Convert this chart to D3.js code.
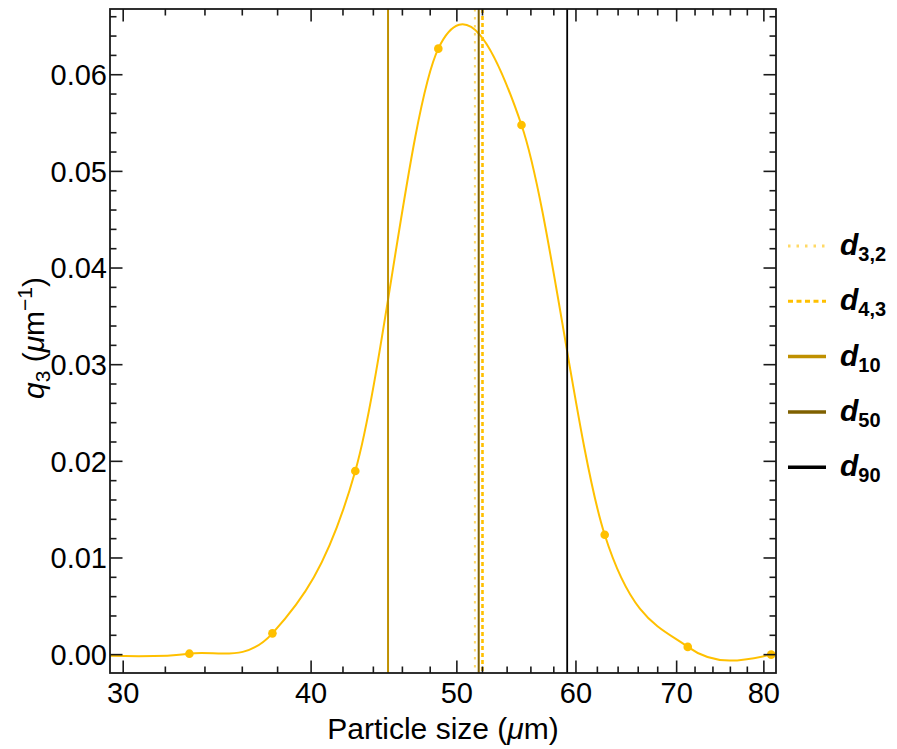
<!DOCTYPE html>
<html lang="en">
<head>
<meta charset="UTF-8">
<title>q3 particle size distribution</title>
<style>
    body { margin: 0; background: #fff; }
    svg text { font-family: "Liberation Sans", Arial, sans-serif; fill: #000; }
    .frame { fill: none; stroke: #1a1a1a; stroke-width: 1.8px; }
    .tick { stroke: #1a1a1a; stroke-width: 1.6px; }
    .curve { fill: none; stroke: #ffc000; stroke-width: 2px; }
</style>
</head>
<body>
<div id="chart"></div>
<script src="https://cdn.jsdelivr.net/npm/d3@7"></script>
<script>
    // q3 values; the first and last sit just outside the plotted range
    const sizes = [29.2, 33.2, 37.7, 42.8, 48.6, 55.2, 62.7, 71.2, 80.9, 91.9];
    const q3 = [-0.0001, 0.0001, 0.0022, 0.0190, 0.0627, 0.0548, 0.0124, 0.0008, 0.0000, 0.0047];

    // characteristic diameters
    const diamNames = ["3,2", "4,3", "10", "50", "90"];
    const diamValues = [51.4, 52.0, 45.0, 51.7, 59.2];
    const diamColors = ["#ffd966", "#ffc000", "#bf9000", "#7f6000", "#000000"];
    const diamDash = ["2.5,5.5", "4,3", null, null, null];
    const diamWidth = [2, 2.6, 2, 2, 1.8];

    const xMajor = [30, 40, 50, 60, 70, 80];
    const yMajor = [0, 0.01, 0.02, 0.03, 0.04, 0.05, 0.06];

    const W = 897, H = 749;
    const margin = { top: 9, right: 121, bottom: 76, left: 110 };
    const width = W - margin.left - margin.right,
          height = H - margin.top - margin.bottom;

    const x = d3.scaleLog().domain([29.4, 81.5]).range([0, width]);
    const y = d3.scaleLinear().domain([-0.0019, 0.0668]).range([height, 0]);

    const svg = d3.select("#chart").append("svg")
        .attr("width", W).attr("height", H);
    const g = svg.append("g")
        .attr("transform", `translate(${margin.left},${margin.top})`);

    g.append("clipPath").attr("id", "plot-clip")
        .append("rect").attr("width", width).attr("height", height);

    const plot = g.append("g").attr("clip-path", "url(#plot-clip)");

    const pts = sizes.map((s, i) => [s, q3[i]]);

    plot.append("path")
        .datum(pts)
        .attr("class", "curve")
        .attr("d", d3.line()
            .x(d => x(d[0])).y(d => y(d[1]))
            .curve(d3.curveCardinal.tension(0)));

    plot.selectAll(".pt")
        .data(pts)
        .enter().append("circle")
        .attr("class", "pt")
        .attr("cx", d => x(d[0])).attr("cy", d => y(d[1]))
        .attr("r", 4.3)
        .attr("fill", "#ffc000");

    // vertical diameter lines (solid first, dotted on top)
    const order = [2, 3, 4, 0, 1];
    plot.selectAll(".dline")
        .data(order)
        .enter().append("line")
        .attr("x1", i => x(diamValues[i])).attr("x2", i => x(diamValues[i]))
        .attr("y1", 0).attr("y2", height)
        .attr("stroke", i => diamColors[i])
        .attr("stroke-width", i => diamWidth[i])
        .attr("stroke-dasharray", i => diamDash[i]);

    // ticks on all four sides
    const xMinor = d3.range(30, 82, 2).filter(v => !xMajor.includes(v));
    const yMinor = d3.range(-2, 67, 2).map(v => v / 1000)
        .filter(v => v >= y.domain()[0] && v <= y.domain()[1])
        .filter(v => !yMajor.some(m => Math.abs(m - v) < 1e-9));
    const bigT = 12.5, smallT = 6.5;

    const ticks = g.append("g");
    function xTicks(vals, len) {
        vals.forEach(v => {
            ticks.append("line").attr("class", "tick")
                .attr("x1", x(v)).attr("x2", x(v)).attr("y1", height).attr("y2", height - len);
            ticks.append("line").attr("class", "tick")
                .attr("x1", x(v)).attr("x2", x(v)).attr("y1", 0).attr("y2", len);
        });
    }
    function yTicks(vals, len) {
        vals.forEach(v => {
            ticks.append("line").attr("class", "tick")
                .attr("y1", y(v)).attr("y2", y(v)).attr("x1", 0).attr("x2", len);
            ticks.append("line").attr("class", "tick")
                .attr("y1", y(v)).attr("y2", y(v)).attr("x1", width).attr("x2", width - len);
        });
    }
    xTicks(xMajor, bigT); xTicks(xMinor, smallT);
    yTicks(yMajor, bigT); yTicks(yMinor, smallT);

    g.append("rect").attr("class", "frame").attr("width", width).attr("height", height);

    g.selectAll(".xlab")
        .data(xMajor)
        .enter().append("text")
        .attr("x", d => x(d)).attr("y", height + 30)
        .attr("text-anchor", "middle")
        .style("font-size", "29px")
        .text(d => d);

    g.selectAll(".ylab")
        .data(yMajor)
        .enter().append("text")
        .attr("x", -3).attr("y", d => y(d))
        .attr("dy", "0.36em")
        .attr("text-anchor", "end")
        .style("font-size", "29px")
        .text(d3.format(".2f"));

    // axis titles
    const xt = svg.append("text")
        .attr("x", margin.left + width / 2).attr("y", 739)
        .attr("text-anchor", "middle")
        .style("font-size", "30px");
    xt.append("tspan").text("Particle size (");
    xt.append("tspan").style("font-style", "italic").text("μ");
    xt.append("tspan").text("m)");

    const yt = svg.append("text")
        .attr("transform", `translate(44,${margin.top + height / 2 - 3}) rotate(-90)`)
        .attr("text-anchor", "middle")
        .style("font-size", "30px");
    yt.append("tspan").style("font-style", "italic").text("q");
    yt.append("tspan").attr("dy", 6).style("font-size", "21px").text("3");
    yt.append("tspan").attr("dy", -6).text(" (");
    yt.append("tspan").style("font-style", "italic").text("μ");
    yt.append("tspan").text("m");
    yt.append("tspan").attr("dy", -12).style("font-size", "21px").text("−1");
    yt.append("tspan").attr("dy", 12).text(")");

    // legend
    const leg = svg.append("g").attr("transform", "translate(788,246)");
    const item = leg.selectAll(".item")
        .data(diamNames)
        .enter().append("g")
        .attr("transform", (d, i) => `translate(0,${i * 55.3})`);
    item.append("line")
        .attr("x1", 0).attr("x2", 38)
        .attr("stroke", (d, i) => diamColors[i])
        .attr("stroke-width", (d, i) => i < 2 ? 3 : 3.5)
        .attr("stroke-dasharray", (d, i) => i === 0 ? "2.5,6" : i === 1 ? "5,3.5" : null);
    const lt = item.append("text")
        .attr("x", 52).attr("y", 9)
        .style("font-weight", "bold");
    lt.append("tspan").style("font-style", "italic").style("font-size", "30px").text("d");
    lt.append("tspan").attr("dy", 6).style("font-size", "20px").text(d => d);
</script>
</body>
</html>
